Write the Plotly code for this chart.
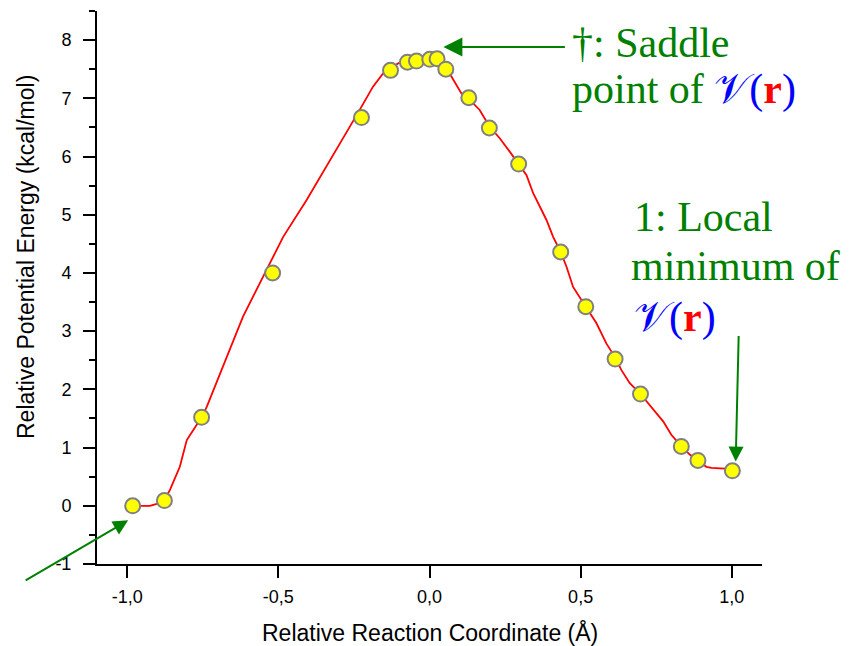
import plotly.graph_objects as go

# Sampled points along the reaction path
path_x = [-0.982, -0.877, -0.754, -0.519, -0.225, -0.129, -0.073, -0.043, 0.001, 0.025,
          0.054, 0.130, 0.198, 0.295, 0.434, 0.517, 0.614, 0.698, 0.833, 0.888, 1.002]
path_e = [0.00, 0.09, 1.52, 4.00, 6.67, 7.48, 7.62, 7.64, 7.67, 7.68,
          7.50, 7.01, 6.49, 5.87, 4.36, 3.42, 2.52, 1.92, 1.02, 0.78, 0.60]

# Continuous energy profile
curve_x = [-0.982, -0.925, -0.905, -0.878, -0.859, -0.826, -0.803, -0.786, -0.770, -0.754,
           -0.737, -0.683, -0.617, -0.550, -0.484, -0.407, -0.330, -0.264, -0.220, -0.187,
           -0.153, -0.129, -0.104, -0.073, -0.021, 0.024, 0.054, 0.073, 0.089, 0.106,
           0.130, 0.166, 0.198, 0.233, 0.266, 0.295, 0.321, 0.343, 0.365, 0.387,
           0.409, 0.434, 0.453, 0.475, 0.517, 0.552, 0.585, 0.614, 0.635, 0.662,
           0.698, 0.740, 0.773, 0.800, 0.833, 0.861, 0.888, 0.916, 0.933, 0.977, 1.002]
curve_e = [0.00, 0.00, 0.03, 0.09, 0.27, 0.67, 1.13, 1.27, 1.39, 1.52,
           1.70, 2.39, 3.25, 3.94, 4.62, 5.25, 5.94, 6.51, 6.90, 7.20,
           7.43, 7.52, 7.60, 7.64, 7.69, 7.69, 7.54, 7.37, 7.23, 7.08,
           6.99, 6.80, 6.52, 6.31, 6.08, 5.87, 5.68, 5.37, 5.14, 4.91,
           4.62, 4.36, 4.11, 3.76, 3.42, 3.14, 2.79, 2.55, 2.33, 2.11,
           1.92, 1.65, 1.45, 1.22, 1.02, 0.88, 0.78, 0.67, 0.65, 0.64, 0.60]

x_ticks = [-1.0, -0.5, 0.0, 0.5, 1.0]
x_tick_text = ["-1,0", "-0,5", "0,0", "0,5", "1,0"]
y_ticks = [-1, 0, 1, 2, 3, 4, 5, 6, 7, 8]
y_tick_text = ["-1", "0", "1", "2", "3", "4", "5", "6", "7", "8"]
y_minor = [-0.5, 0.5, 1.5, 2.5, 3.5, 4.5, 5.5, 6.5, 7.5, 8.5]

W, H = 854, 646
ML, MR, MT, MB = 97, 92, 11, 82
PW, PH = W - ML - MR, H - MT - MB


def px(x):
    return (x - ML) / PW


def py(y):
    return (H - MB - y) / PH


GREEN = "#008000"
SERIF = "Liberation Serif, Times New Roman, serif"
SANS = "Liberation Sans, Arial, sans-serif"
VR = ('<span style="color:#0000FF">𝒱(</span><b><span style="color:#FF0000">r</span></b>'
      '<span style="color:#0000FF">)</span>')

fig = go.Figure()
fig.add_trace(go.Scatter(x=curve_x, y=curve_e, mode="lines",
                         line=dict(color="#FF0000", width=1.8), hoverinfo="skip",
                         showlegend=False))
fig.add_trace(go.Scatter(x=path_x, y=path_e, mode="markers",
                         marker=dict(size=15, color="#FFFF00",
                                     line=dict(color="#808080", width=2)),
                         showlegend=False))

annotations = []
# arrows
annotations.append(dict(xref="x", yref="y", x=0.046, y=7.88, ax=123, ay=0, text="",
                        showarrow=True, arrowhead=2, arrowsize=1.9, arrowwidth=2,
                        arrowcolor=GREEN))
annotations.append(dict(xref="x", yref="y", x=1.013, y=0.76, ax=3, ay=-127, text="",
                        showarrow=True, arrowhead=2, arrowsize=1.5, arrowwidth=2,
                        arrowcolor=GREEN))
annotations.append(dict(xref="x", yref="y", x=-0.997, y=-0.25, ax=-104, ay=61, text="",
                        showarrow=True, arrowhead=2, arrowsize=1.5, arrowwidth=2,
                        arrowcolor=GREEN))

# labels
def label(text, x, y):
    return dict(xref="paper", yref="paper", x=px(x), y=py(y), xanchor="left",
                yanchor="middle", text=text, showarrow=False,
                font=dict(family=SERIF, size=42, color=GREEN))


annotations += [
    label("†: Saddle", 570, 43),
    label("point of " + VR, 570, 89),
    label("1: Local", 632, 217),
    label("minimum of", 629, 266),
    label(VR, 632, 317),
]

# axis titles
annotations.append(dict(xref="paper", yref="paper", x=px(430), y=py(632), xanchor="center",
                        yanchor="middle", text="Relative Reaction Coordinate (Å)",
                        showarrow=False, font=dict(family=SANS, size=23, color="#000000")))
annotations.append(dict(xref="paper", yref="paper", x=px(26), y=py(257), xanchor="center",
                        yanchor="middle", text="Relative Potential Energy (kcal/mol)",
                        textangle=-90, showarrow=False,
                        font=dict(family=SANS, size=23, color="#000000")))

fig.update_layout(
    width=W, height=H,
    margin=dict(l=ML, r=MR, t=MT, b=MB, pad=0),
    paper_bgcolor="white", plot_bgcolor="white",
    annotations=annotations,
    shapes=[dict(type="line", xref="paper", yref="paper", x0=-12 / PW, x1=0, y0=0, y1=0,
                 line=dict(color="black", width=2))],
    xaxis=dict(range=[-1.1, 1.1], showgrid=False, zeroline=False, showline=True,
               linecolor="black", linewidth=2, ticks="outside", ticklen=12, tickwidth=2,
               tickcolor="black", tickvals=x_ticks, ticktext=x_tick_text,
               tickfont=dict(family=SANS, size=18, color="black"), ticklabelstandoff=3),
    yaxis=dict(range=[-1, 8.5], showgrid=False, zeroline=False, showline=True,
               linecolor="black", linewidth=2, ticks="outside", ticklen=12, tickwidth=2,
               tickcolor="black", tickvals=y_ticks, ticktext=y_tick_text,
               minor=dict(tickvals=y_minor, ticklen=6, tickwidth=2, tickcolor="black",
                          ticks="outside"),
               tickfont=dict(family=SANS, size=18, color="black"), ticklabelstandoff=8),
)

fig.write_html("out.html")
